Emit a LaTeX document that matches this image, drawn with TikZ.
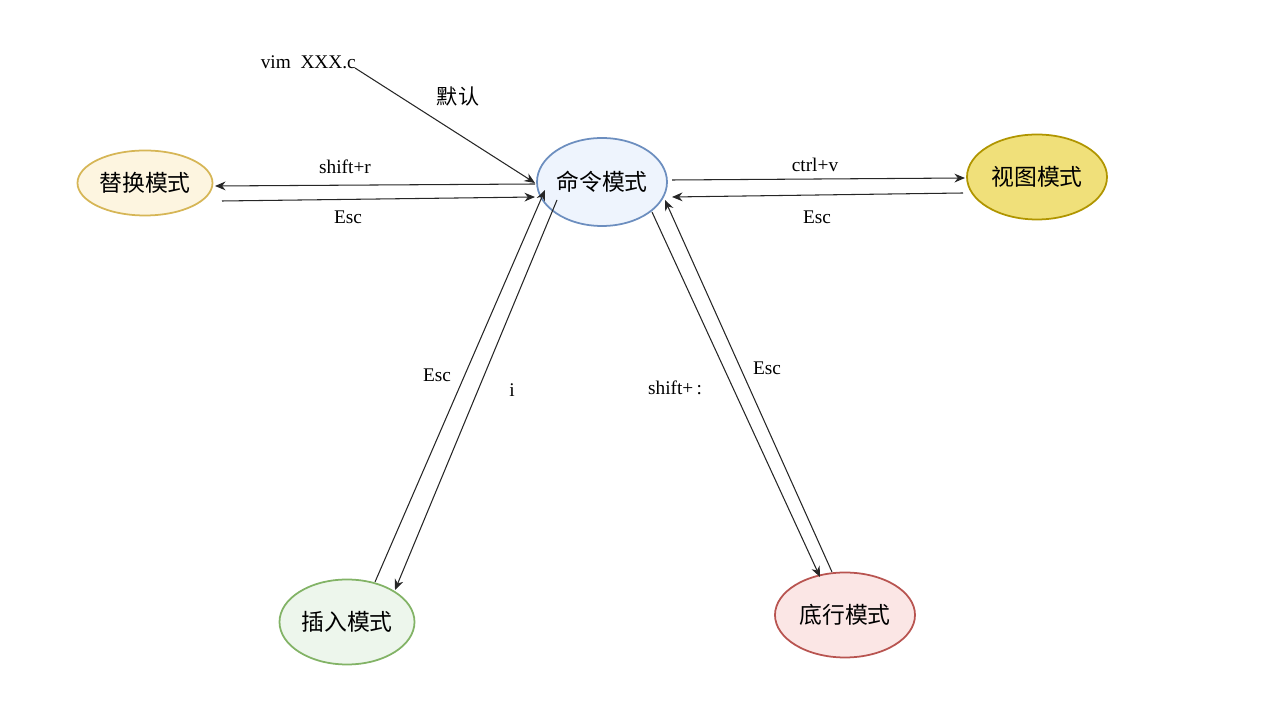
\documentclass[tikz,border=0pt]{standalone}
\usepackage{fontspec}
\setmainfont{Liberation Serif}
\newfontfamily\cjk{Noto Sans CJK SC}
\usetikzlibrary{arrows.meta,shapes.geometric}
\definecolor{bstroke}{HTML}{6C8EBF}
\definecolor{bfill}{HTML}{EEF4FD}
\definecolor{ystroke}{HTML}{D6B656}
\definecolor{yfill}{HTML}{FDF5E0}
\definecolor{vstroke}{HTML}{B09500}
\definecolor{vfill}{HTML}{F0E07A}
\definecolor{gstroke}{HTML}{82B366}
\definecolor{gfill}{HTML}{EDF6EC}
\definecolor{rstroke}{HTML}{B85450}
\definecolor{rfill}{HTML}{FBE6E5}
\begin{document}
\begin{tikzpicture}[x=0.02cm,y=-0.02cm,
  st/.style={ellipse,draw,line width=1pt,font=\cjk\fontsize{13}{15}\selectfont,inner sep=0pt},
  ar/.style={-{Stealth[length=6pt,width=5pt]},line width=0.6pt,black!85},
  lb/.style={font=\fontsize{11}{13}\selectfont}]
\useasboundingbox (0,0) rectangle (1286,705);
\node[st,draw=ystroke,fill=yfill,minimum width=135*0.02cm,minimum height=65*0.02cm] (rep) at (145,183) {替换模式};
\node[st,draw=bstroke,fill=bfill,minimum width=130*0.02cm,minimum height=88*0.02cm] (cmd) at (602,182) {命令模式};
\node[st,draw=vstroke,fill=vfill,minimum width=140*0.02cm,minimum height=85*0.02cm] (vis) at (1037,177) {视图模式};
\node[st,draw=gstroke,fill=gfill,minimum width=135*0.02cm,minimum height=85*0.02cm] (ins) at (347,622) {插入模式};
\node[st,draw=rstroke,fill=rfill,minimum width=140*0.02cm,minimum height=85*0.02cm] (bot) at (845,615) {底行模式};
\node[lb,anchor=east] (vim) at (362,62) {vim\ \ XXX.c};
\coordinate (v0) at (355,68);
\draw[ar] (v0) -- (535,183);
\node[font=\cjk\fontsize{12}{14}\selectfont] (def) at (458,97) {默认};
\draw[ar] (535,184) -- (215,186);
\node[lb] (l1) at (345,167) {shift+r};
\draw[ar] (222,201) -- (535,197);
\node[lb] (l2) at (348,217) {Esc};
\draw[ar] (672,180) -- (965,178);
\node[lb] (l3) at (815,165) {ctrl+v};
\draw[ar] (963,193) -- (672,197);
\node[lb] (l4) at (817,217) {Esc};
\draw[ar] (375,582) -- (545,190);
\node[lb] (l5) at (437,375) {Esc};
\draw[ar] (557,200) -- (395,590);
\node[lb] (l6) at (512,390) {i};
\draw[ar] (652,212) -- (820,577);
\node[lb] (l7) at (675,388) {shift+\,:};
\draw[ar] (832,572) -- (665,200);
\node[lb] (l8) at (767,368) {Esc};
\end{tikzpicture}
\end{document}
